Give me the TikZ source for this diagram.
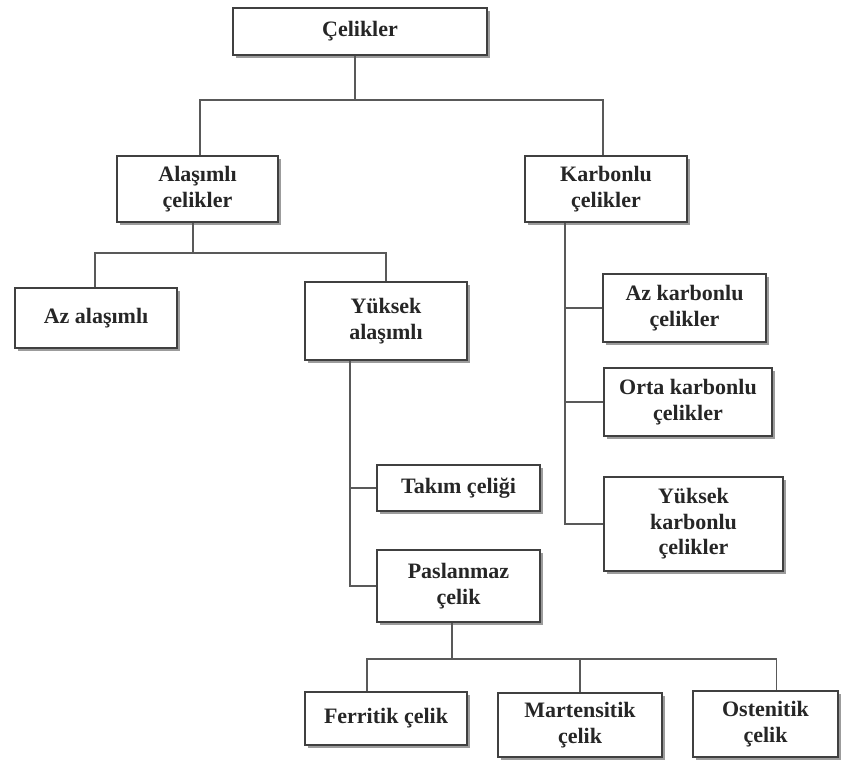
\documentclass[tikz,border=0pt]{standalone}
\usepackage{fontspec}
\setmainfont{Liberation Serif}
\usetikzlibrary{shadows}
\begin{document}
\begin{tikzpicture}[
x=1pt, y=-1pt,
every node/.style={align=center, text=black!85, font=\fontsize{22}{25.5}\selectfont\bfseries},
boxstyle/.style={draw=black!75, line width=1.4pt, fill=white, inner sep=0pt, drop shadow={shadow xshift=3pt, shadow yshift=-3pt, fill=black!55, opacity=0.7}},
link/.style={draw=black!65, line width=1.3pt}
]
\useasboundingbox[fill=white] (0,0) rectangle (851,760);
% Top level
\node[boxstyle, minimum width=254pt, minimum height=47pt] (celik) at (360,31.5) {Çelikler};
\node[boxstyle, minimum width=161pt, minimum height=66pt] (alasimli) at (197.5,189) {Alaşımlı\\çelikler};
\node[boxstyle, minimum width=162pt, minimum height=66pt] (karbonlu) at (606,189) {Karbonlu\\çelikler};
% Alloy steels
\node[boxstyle, minimum width=162pt, minimum height=60pt] (azalasimli) at (96,318) {Az alaşımlı};
\node[boxstyle, minimum width=162pt, minimum height=78pt] (yuksekalasimli) at (386,321) {Yüksek\\alaşımlı};
\node[boxstyle, minimum width=163pt, minimum height=46pt] (takim) at (458.5,488) {Takım çeliği};
\node[boxstyle, minimum width=163pt, minimum height=72pt] (paslanmaz) at (458.5,586) {Paslanmaz\\çelik};
% Carbon steels
\node[boxstyle, minimum width=163pt, minimum height=68pt] (azkarbon) at (684.5,308) {Az karbonlu\\çelikler};
\node[boxstyle, minimum width=168pt, minimum height=68pt] (ortakarbon) at (688,402) {Orta karbonlu\\çelikler};
\node[boxstyle, minimum width=179pt, minimum height=94pt] (yuksekkarbon) at (693.5,524) {Yüksek\\karbonlu\\çelikler};
% Stainless steels
\node[boxstyle, minimum width=162pt, minimum height=53pt] (ferritik) at (386,718.5) {Ferritik çelik};
\node[boxstyle, minimum width=164pt, minimum height=64pt] (martensitik) at (580,725) {Martensitik\\çelik};
\node[boxstyle, minimum width=145pt, minimum height=66pt] (ostenitik) at (765.5,724) {Ostenitik\\çelik};
% Connectors
\coordinate (j1) at (355,100);
\draw[link] (celik.south -| j1) -- (j1);
\draw[link] ([xshift=2.5pt]alasimli.north) |- (j1) -| ([xshift=-3pt]karbonlu.north);
\coordinate (j2) at (193,253);
\draw[link] (alasimli.south -| j2) -- (j2);
\draw[link] ([xshift=-1pt]azalasimli.north) |- (j2) -| (yuksekalasimli.north);
\coordinate (kt) at (565,0);
\draw[link] (karbonlu.south -| kt) |- (yuksekkarbon.west);
\draw[link] (azkarbon.west -| kt) -- (azkarbon.west);
\draw[link] (ortakarbon.west -| kt) -- (ortakarbon.west);
\coordinate (yt) at (350,0);
\draw[link] (yuksekalasimli.south -| yt) |- (paslanmaz.west);
\draw[link] (takim.west -| yt) -- (takim.west);
\coordinate (j3) at (452,659);
\draw[link] (paslanmaz.south -| j3) -- (j3);
\draw[link] ([xshift=-19pt]ferritik.north) |- (j3) -| ([xshift=11pt]ostenitik.north);
\draw[link] (martensitik.north) -- (martensitik.north |- j3);
\end{tikzpicture}
\end{document}
